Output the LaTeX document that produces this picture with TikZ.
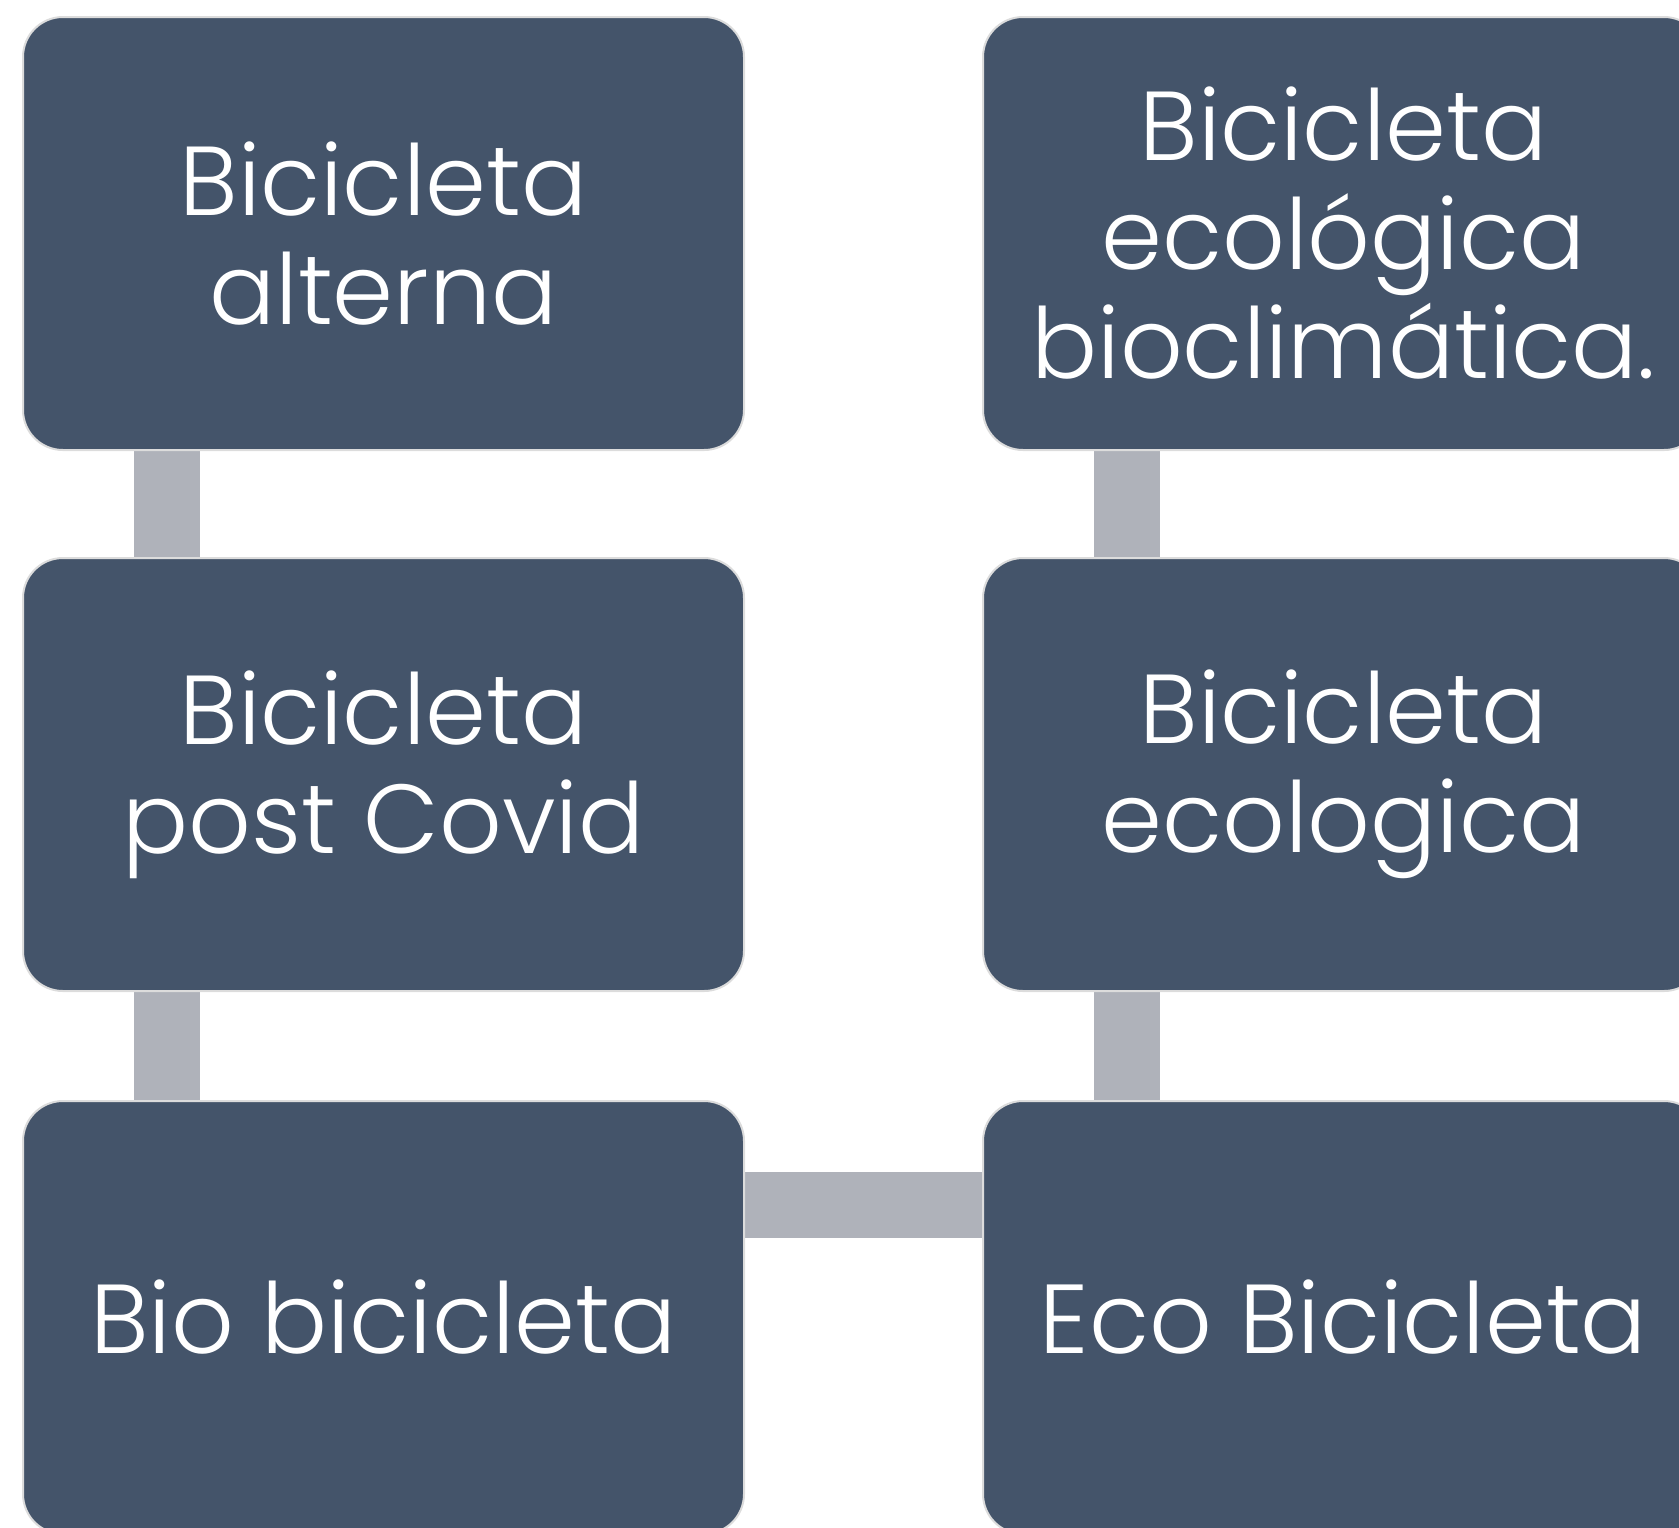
\documentclass[tikz,border=0pt]{standalone}
\usepackage{fontspec}
\setmainfont{Poppins}[UprightFont=* Light]
\usetikzlibrary{backgrounds}
\definecolor{boxfill}{HTML}{44546A}
\definecolor{boxline}{HTML}{DCDCDC}
\definecolor{connfill}{HTML}{AFB2BA}
\tikzset{
  box/.style={draw=boxline, line width=1pt, fill=boxfill, rounded corners=20pt,
    minimum width=360.5pt, minimum height=216.5pt, text=white, align=center,
    font=\fontsize{49}{54.5}\selectfont, inner sep=0pt},
  conn/.style={draw=connfill, line width=33pt}
}
\begin{document}
\begin{tikzpicture}[x=0.5pt,y=-0.5pt]
\useasboundingbox (0,0) rectangle (1679,1527);
\clip (0,0) rectangle (1679,1527);
\node[box] (a) at (383.5,233.5) {Bicicleta\\alterna};
\node[box] (b) at (383.5,774.5) {Bicicleta\\post Covid};
\node[box] (c) at (383.5,1317.5) {Bio bicicleta};
\node[box] (d) at (1343.5,233.5) {Bicicleta\\ecológica\\bioclimática.};
\node[box] (e) at (1343.5,774.5) {Bicicleta\\ecologica};
\node[box] (f) at (1343.5,1317.5) {Eco Bicicleta};
\begin{scope}[on background layer]
\draw[conn] ([xshift=72.5pt]a.south west) -- ([xshift=72.5pt]b.north west);
\draw[conn] ([xshift=72.5pt]b.south west) -- ([xshift=72.5pt]c.north west);
\draw[conn] ([xshift=72.5pt]d.south west) -- ([xshift=72.5pt]e.north west);
\draw[conn] ([xshift=72.5pt]e.south west) -- ([xshift=72.5pt]f.north west);
\draw[conn] ([yshift=-52.5pt]c.north east) -- ([yshift=-52.5pt]f.north west);
\end{scope}
\end{tikzpicture}
\end{document}
